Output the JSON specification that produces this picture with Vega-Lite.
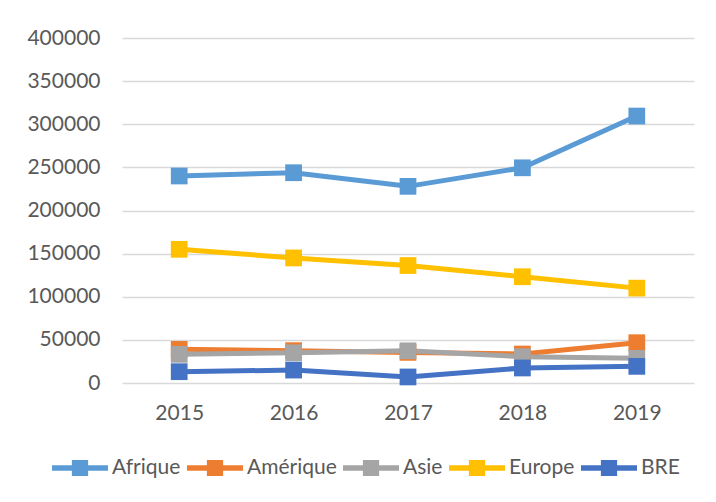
{
  "$schema": "https://vega.github.io/schema/vega-lite/v6.json",
  "width": 572,
  "height": 345,
  "autosize": "none",
  "padding": {"left": 122, "top": 38, "right": 22, "bottom": 119},
  "background": "white",
  "config": {
    "view": {"stroke": null},
    "font": "Lato"
  },
  "data": {
    "values": [
      {"serie": "Afrique", "annee": "2015", "valeur": 240000},
      {"serie": "Afrique", "annee": "2016", "valeur": 243800},
      {"serie": "Afrique", "annee": "2017", "valeur": 228000},
      {"serie": "Afrique", "annee": "2018", "valeur": 249500},
      {"serie": "Afrique", "annee": "2019", "valeur": 309500},
      {"serie": "Amérique", "annee": "2015", "valeur": 39000},
      {"serie": "Amérique", "annee": "2016", "valeur": 37500},
      {"serie": "Amérique", "annee": "2017", "valeur": 35500},
      {"serie": "Amérique", "annee": "2018", "valeur": 33600},
      {"serie": "Amérique", "annee": "2019", "valeur": 46700},
      {"serie": "Asie", "annee": "2015", "valeur": 33200},
      {"serie": "Asie", "annee": "2016", "valeur": 35000},
      {"serie": "Asie", "annee": "2017", "valeur": 37300},
      {"serie": "Asie", "annee": "2018", "valeur": 30500},
      {"serie": "Asie", "annee": "2019", "valeur": 28600},
      {"serie": "Europe", "annee": "2015", "valeur": 155000},
      {"serie": "Europe", "annee": "2016", "valeur": 145000},
      {"serie": "Europe", "annee": "2017", "valeur": 136200},
      {"serie": "Europe", "annee": "2018", "valeur": 123200},
      {"serie": "Europe", "annee": "2019", "valeur": 110000},
      {"serie": "BRE", "annee": "2015", "valeur": 13100},
      {"serie": "BRE", "annee": "2016", "valeur": 15000},
      {"serie": "BRE", "annee": "2017", "valeur": 7000},
      {"serie": "BRE", "annee": "2018", "valeur": 17400},
      {"serie": "BRE", "annee": "2019", "valeur": 19300}
    ]
  },
  "encoding": {
    "x": {
      "field": "annee",
      "type": "ordinal",
      "title": null,
      "scale": {"type": "point", "padding": 0.5},
      "axis": {
        "domain": false,
        "ticks": false,
        "grid": false,
        "labelAngle": 0,
        "labelFontSize": 21,
        "labelColor": "#595959",
        "labelPadding": 19
      }
    },
    "y": {
      "field": "valeur",
      "type": "quantitative",
      "title": null,
      "scale": {"domain": [0, 400000], "nice": false},
      "axis": {
        "values": [0, 50000, 100000, 150000, 200000, 250000, 300000, 350000, 400000],
        "format": "d",
        "domain": false,
        "ticks": false,
        "gridColor": "#d9d9d9",
        "gridWidth": 1.5,
        "labelFontSize": 21,
        "labelColor": "#595959",
        "labelPadding": 22
      }
    },
    "color": {
      "field": "serie",
      "type": "nominal",
      "sort": ["Afrique", "Amérique", "Asie", "Europe", "BRE"],
      "scale": {
        "domain": ["Afrique", "Amérique", "Asie", "Europe", "BRE"],
        "range": ["#5B9BD5", "#ED7D31", "#A5A5A5", "#FFC000", "#4472C4"]
      },
      "legend": {
        "title": null,
        "orient": "none",
        "direction": "horizontal",
        "legendX": -70,
        "legendY": 402,
        "labelFontSize": 21,
        "labelColor": "#595959",
        "labelOffset": 4,
        "columnPadding": 6,
        "symbolSize": 3136,
        "symbolType": "M-1,-0.1H1V0.1H-1Z M-0.29,-0.29H0.29V0.29H-0.29Z",
        "symbolStrokeWidth": 0,
        "encode": {
          "symbols": {
            "update": {
              "fill": {"scale": "color", "field": "value"},
              "strokeWidth": {"value": 0}
            }
          }
        }
      }
    }
  },
  "layer": [
    {
      "mark": {"type": "line", "strokeWidth": 5},
      "encoding": {}
    },
    {
      "mark": {"type": "point", "shape": "square", "filled": true, "size": 280, "opacity": 1},
      "encoding": {}
    }
  ]
}
